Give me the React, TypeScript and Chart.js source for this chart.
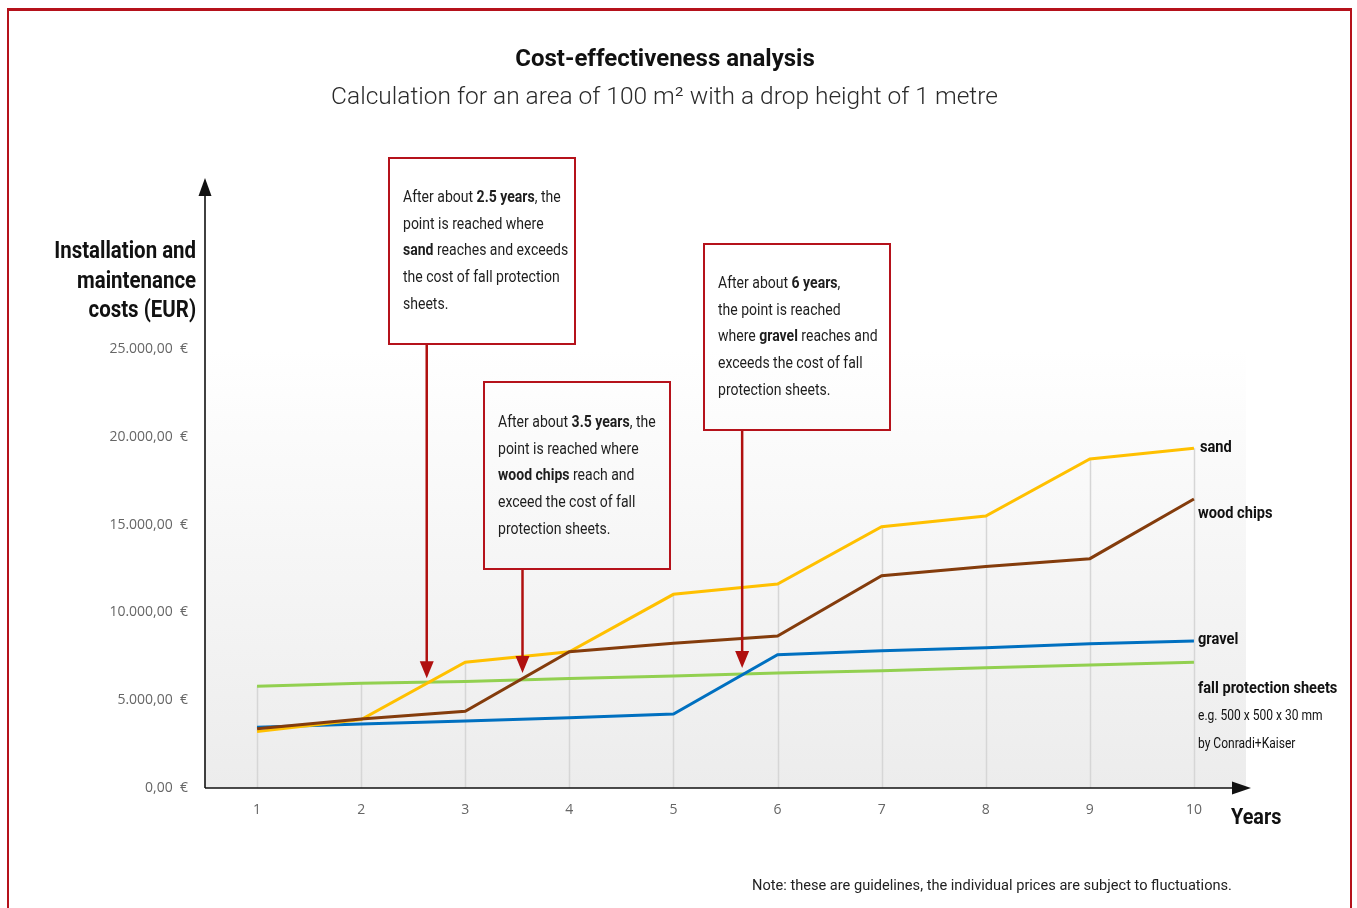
import React, { useEffect, useRef } from "react";
import { Chart, registerables } from "chart.js";

Chart.register(...registerables);

// ---------- data ----------
const years = ["1", "2", "3", "4", "5", "6", "7", "8", "9", "10"];
const sand = [3210, 3900, 7160, 7760, 11030, 11620, 14880, 15490, 18740, 19350];
const woodChips = [3380, 3930, 4370, 7760, 8240, 8660, 12090, 12620, 13060, 16460];
const gravel = [3460, 3640, 3815, 4000, 4210, 7590, 7820, 7990, 8220, 8370];
const fallProtectionSheets = [5800, 5960, 6070, 6240, 6380, 6550, 6680, 6850, 7000, 7160];
const yTickValues = [0, 5000, 10000, 15000, 20000, 25000];
// break-even points the annotation arrows point at
const arrowYears = [2.63, 3.55, 5.66];
const arrowValues = [6250, 6550, 6830];

const RED = "#b5121b";
const FONT = "Roboto, 'Noto Sans', sans-serif";

function formatEur(v: number): string {
  const intPart = Math.floor(v).toString().replace(/\B(?=(\d{3})+(?!\d))/g, ".");
  return intPart + ",00\u00a0 €";
}

const decorPlugin = {
  id: "decor",
  beforeDatasetsDraw(chart: any) {
    const { ctx, chartArea, scales } = chart;
    const xs = scales.x;
    const ys = scales.y;
    ctx.save();
    const g = ctx.createLinearGradient(0, chartArea.top, 0, chartArea.bottom);
    g.addColorStop(0, "#ffffff");
    g.addColorStop(0.2, "#fbfbfb");
    g.addColorStop(1, "#ececec");
    ctx.fillStyle = g;
    ctx.fillRect(chartArea.left, chartArea.top, chartArea.right - chartArea.left, chartArea.bottom - chartArea.top);
    // drop lines from the highest value at each year
    ctx.strokeStyle = "#d6d6d6";
    ctx.lineWidth = 1.5;
    years.forEach((_, i) => {
      const maxV = Math.max(sand[i], woodChips[i], gravel[i], fallProtectionSheets[i]);
      const x = Math.round(xs.getPixelForValue(i)) + 0.5;
      ctx.beginPath();
      ctx.moveTo(x, ys.getPixelForValue(maxV));
      ctx.lineTo(x, chartArea.bottom);
      ctx.stroke();
    });
    ctx.restore();
  },
  afterDatasetsDraw(chart: any) {
    const { ctx, chartArea, scales } = chart;
    const xs = scales.x;
    const ys = scales.y;
    ctx.save();
    // axes with arrowheads
    ctx.strokeStyle = "#111";
    ctx.fillStyle = "#111";
    ctx.lineWidth = 1.6;
    const ax = chartArea.left;
    const ay = chartArea.bottom;
    ctx.beginPath();
    ctx.moveTo(ax, ay);
    ctx.lineTo(ax, 194);
    ctx.stroke();
    ctx.beginPath();
    ctx.moveTo(ax, 178);
    ctx.lineTo(ax - 6.5, 196);
    ctx.lineTo(ax + 6.5, 196);
    ctx.closePath();
    ctx.fill();
    ctx.beginPath();
    ctx.moveTo(ax, ay);
    ctx.lineTo(1234, ay);
    ctx.stroke();
    ctx.beginPath();
    ctx.moveTo(1251, ay);
    ctx.lineTo(1232, ay - 6.5);
    ctx.lineTo(1232, ay + 6.5);
    ctx.closePath();
    ctx.fill();

    // annotation arrows
    const starts = [345, 570, 431];
    ctx.strokeStyle = "#b0100f";
    ctx.fillStyle = "#b0100f";
    ctx.lineWidth = 2.5;
    arrowYears.forEach((yr, k) => {
      const x = xs.getPixelForValue(yr - 1);
      const tip = ys.getPixelForValue(arrowValues[k]);
      ctx.beginPath();
      ctx.moveTo(x, starts[k]);
      ctx.lineTo(x, tip - 14);
      ctx.stroke();
      ctx.beginPath();
      ctx.moveTo(x, tip);
      ctx.lineTo(x - 7, tip - 17);
      ctx.lineTo(x + 7, tip - 17);
      ctx.closePath();
      ctx.fill();
    });
    ctx.restore();
  },
};

const squeeze = (k: number, origin = "left top"): React.CSSProperties => ({
  display: "inline-block",
  transform: `scaleX(${k})`,
  transformOrigin: origin,
  whiteSpace: "nowrap",
});

const boxStyle = (left: number, top: number, height: number, padTop: number): React.CSSProperties => ({
  position: "absolute",
  left,
  top,
  width: 188,
  height,
  boxSizing: "border-box",
  border: `2px solid ${RED}`,
  paddingLeft: 13,
  paddingTop: padTop,
  fontFamily: FONT,
  fontSize: 17,
  lineHeight: "26.7px",
  color: "#1e1e1e",
  whiteSpace: "nowrap",
  overflow: "hidden",
});

const labelStyle = (left: number, centerY: number, size: number, bold = true): React.CSSProperties => ({
  position: "absolute",
  left,
  top: centerY - size * 0.65,
  fontFamily: FONT,
  fontSize: size,
  lineHeight: `${size * 1.3}px`,
  fontWeight: bold ? 700 : 400,
  color: "#111",
  whiteSpace: "nowrap",
});

export default function App() {
  const canvasRef = useRef<HTMLCanvasElement | null>(null);

  useEffect(() => {
    if (!canvasRef.current) return;
    const chart = new Chart(canvasRef.current, {
      type: "line",
      data: {
        labels: years,
        datasets: [
          { label: "wood chips", data: woodChips, borderColor: "#843c0c", backgroundColor: "#843c0c" },
          { label: "sand", data: sand, borderColor: "#ffc000", backgroundColor: "#ffc000" },
          { label: "gravel", data: gravel, borderColor: "#0070c0", backgroundColor: "#0070c0" },
          { label: "fall protection sheets", data: fallProtectionSheets, borderColor: "#92d050", backgroundColor: "#92d050" },
        ].map((d) => ({ ...d, borderWidth: 3, pointRadius: 0, tension: 0, fill: false })),
      },
      options: {
        animation: false,
        responsive: false,
        devicePixelRatio: 1,
        layout: { padding: { top: 349, right: 111, left: 0, bottom: 0 } },
        plugins: { legend: { display: false }, tooltip: { enabled: false }, title: { display: false } },
        scales: {
          x: {
            type: "category",
            offset: true,
            grid: { display: false, drawTicks: false },
            border: { display: false },
            ticks: { padding: 14, color: "#666", font: { family: "'Open Sans', sans-serif", size: 14 } },
            afterFit: (s: any) => {
              s.height = 120;
            },
          },
          y: {
            min: 0,
            max: 25000,
            grid: { display: false, drawTicks: false },
            border: { display: false },
            afterBuildTicks: (s: any) => {
              s.ticks = yTickValues.map((v) => ({ value: v }));
            },
            ticks: {
              padding: 17,
              color: "#666",
              font: { family: "'Open Sans', sans-serif", size: 14 },
              callback: (v: any) => formatEur(Number(v)),
            },
            afterFit: (s: any) => {
              s.width = 205;
            },
          },
        },
      },
      plugins: [decorPlugin],
    } as any);
    return () => chart.destroy();
  }, []);

  const BOX_K = 0.825;

  return (
    <div style={{ position: "absolute", left: 0, top: 0, width: 1357, height: 908, overflow: "hidden", background: "#fff" }}>
      <div
        style={{
          position: "absolute",
          left: 7,
          top: 8,
          width: 1345,
          height: 960,
          boxSizing: "border-box",
          border: `2.5px solid ${RED}`,
          borderTopWidth: 3,
        }}
      />
      <canvas ref={canvasRef} width={1357} height={908} style={{ position: "absolute", left: 0, top: 0, width: 1357, height: 908 }} />

      <div style={{ position: "absolute", left: 0, width: 1330, top: 43, textAlign: "center", fontFamily: FONT, fontWeight: 700, fontSize: 24, lineHeight: "30px", color: "#111" }}>
        Cost-effectiveness analysis
      </div>
      <div style={{ position: "absolute", left: 0, width: 1329, top: 81, textAlign: "center", fontFamily: FONT, fontWeight: 300, fontSize: 24.5, lineHeight: "30px", color: "#2a2a2a" }}>
        Calculation for an area of 100 m² with a drop height of 1 metre
      </div>

      <div style={{ position: "absolute", right: 1357 - 196, top: 236, textAlign: "right", fontFamily: FONT, fontWeight: 700, fontSize: 23.5, lineHeight: "29.5px", color: "#111", whiteSpace: "nowrap" }}>
        <div style={squeeze(0.87, "right top")}>
          Installation and
          <br />
          maintenance
          <br />
          costs (EUR)
        </div>
      </div>

      <div style={boxStyle(388, 157, 188, 24)}>
        <div style={squeeze(BOX_K)}>
          After about <b>2.5 years</b>, the
          <br />
          point is reached where
          <br />
          <b>sand</b> reaches and exceeds
          <br />
          the cost of fall protection
          <br />
          sheets.
        </div>
      </div>
      <div style={boxStyle(483, 381, 189, 25)}>
        <div style={squeeze(BOX_K)}>
          After about <b>3.5 years</b>, the
          <br />
          point is reached where
          <br />
          <b>wood chips</b> reach and
          <br />
          exceed the cost of fall
          <br />
          protection sheets.
        </div>
      </div>
      <div style={boxStyle(703, 243, 188, 24)}>
        <div style={squeeze(BOX_K)}>
          After about <b>6 years</b>,
          <br />
          the point is reached
          <br />
          where <b>gravel</b> reaches and
          <br />
          exceeds the cost of fall
          <br />
          protection sheets.
        </div>
      </div>

      <div style={labelStyle(1200, 446, 17)}><span style={squeeze(0.86)}>sand</span></div>
      <div style={labelStyle(1198, 512, 17)}><span style={squeeze(0.86)}>wood chips</span></div>
      <div style={labelStyle(1198, 638, 17)}><span style={squeeze(0.86)}>gravel</span></div>
      <div style={labelStyle(1198, 687, 17)}><span style={squeeze(0.86)}>fall protection sheets</span></div>
      <div style={labelStyle(1198, 716, 14.5, false)}><span style={squeeze(0.83)}>e.g. 500 x 500 x 30 mm</span></div>
      <div style={labelStyle(1198, 744, 14.5, false)}><span style={squeeze(0.83)}>by Conradi+Kaiser</span></div>
      <div style={labelStyle(1231, 817, 22)}><span style={squeeze(0.9)}>Years</span></div>

      <div style={{ position: "absolute", left: 752, top: 875, fontFamily: FONT, fontSize: 14.6, lineHeight: "20px", color: "#222", whiteSpace: "nowrap" }}>
        Note: these are guidelines, the individual prices are subject to fluctuations.
      </div>
    </div>
  );
}
